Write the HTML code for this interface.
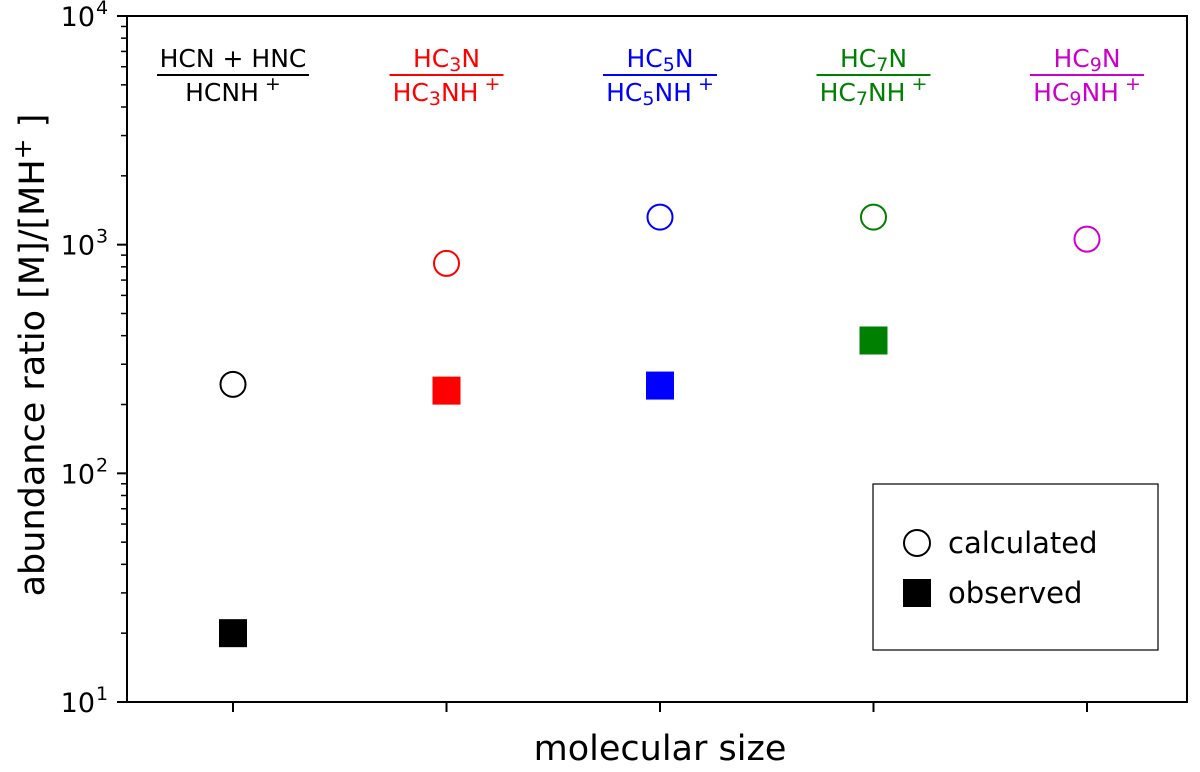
<!DOCTYPE html>
<html><head><meta charset="utf-8"><style>
body{margin:0;background:#fff}
svg{display:block;font-family:"DejaVu Sans","Liberation Sans",sans-serif}
</style></head><body>
<svg id="chart" width="1200" height="772" viewBox="0 0 1200 772" xmlns="http://www.w3.org/2000/svg">
<rect x="127" y="16" width="1060" height="686" fill="none" stroke="#000" stroke-width="2"/>
<g id="ticks"></g>
<g id="marks"></g>
<text x="44" y="355" font-size="35" text-anchor="middle" transform="rotate(-90 44 355)">abundance ratio [M]/[MH<tspan dy="-13" font-size="25">+</tspan><tspan dy="13"> ]</tspan></text>
<text x="660" y="760" font-size="35" text-anchor="middle">molecular size</text>
<g>
<rect x="873" y="484" width="285" height="166" fill="#fff" stroke="#000" stroke-width="1.2"/>
<circle cx="917" cy="543" r="13" fill="none" stroke="#000" stroke-width="2"/>
<text x="948" y="553" font-size="29">calculated</text>
<rect x="903" y="579" width="28" height="28" fill="#000"/>
<text x="948" y="603" font-size="29">observed</text>
</g>
</svg>
<script>
const categories=["HCN","HC3N","HC5N","HC7N","HC9N"];
const calculated=[245,828,1320,1320,1057];
const observed=[20,230,242,381,null];
const colors=["#000","#f00","#00f","#008000","#c0c"];
const yTickLabels=["1","2","3","4"];
const NS="http://www.w3.org/2000/svg";
const X0=127,X1=1187,Y0=702,Y1=16;
function yScale(v){return Y0-(Math.log10(v)-1)/3*(Y0-Y1);}
function xScale(i){return 233+i*213.5;}
function el(tag,attrs,parent){const e=document.createElementNS(NS,tag);for(const k in attrs)e.setAttribute(k,attrs[k]);parent.appendChild(e);return e;}
const tk=document.getElementById('ticks');
yTickLabels.forEach((p,i)=>{
  const v=Math.pow(10,+p);const y=yScale(v);
  const l=el('line',{x1:117,x2:127,y1:y,y2:y,stroke:'#000','stroke-width':2},tk);
  
  
  const t=el('text',{x:95,y:y+10,'font-size':27,'text-anchor':'end'},tk);
  
  
  t.innerHTML='10<tspan x="96" dy="-12" font-size="19" text-anchor="start">'+p+'</tspan>';
  if(i<3){for(let m=2;m<=9;m++){const ym=yScale(m*v);
    const ml=el('line',{x1:121,x2:127,y1:ym,y2:ym,stroke:'#000','stroke-width':1.5},tk);
    
    }}
});
const mk=document.getElementById('marks');
const sub=d=>'<tspan dy="4" font-size="19">'+d+'</tspan><tspan dy="-4">';
const labels=[
 ['HCN + HNC','HCNH'],
 ['HC'+sub(3)+'N</tspan>','HC'+sub(3)+'NH</tspan>'],
 ['HC'+sub(5)+'N</tspan>','HC'+sub(5)+'NH</tspan>'],
 ['HC'+sub(7)+'N</tspan>','HC'+sub(7)+'NH</tspan>'],
 ['HC'+sub(9)+'N</tspan>','HC'+sub(9)+'NH</tspan>']];
const halfW=[76,57,57,57,57];
categories.forEach((c,i)=>{
  const x=xScale(i);
  const t=el('line',{x1:x,x2:x,y1:702,y2:712,stroke:'#000','stroke-width':2},tk);
  
  
  const g=el('g',{fill:colors[i]},mk);
  
  
  const n=el('text',{x:x,y:67,'font-size':25,'text-anchor':'middle'},g);n.innerHTML=labels[i][0];
  el('line',{x1:x-halfW[i],x2:x+halfW[i],y1:75,y2:75,stroke:colors[i],'stroke-width':2},g);
  const d=el('text',{x:x,y:101,'font-size':25,'text-anchor':'middle'},g);d.innerHTML=labels[i][1]+'<tspan dy="-11" font-size="19"> +</tspan>';
  const ci=el('circle',{cx:x,cy:yScale(calculated[i]),r:12.5,fill:'none',stroke:colors[i],'stroke-width':2},mk);
  
  
  if(observed[i]!=null){
    const s=el('rect',{x:x-14,y:yScale(observed[i])-14,width:28,height:28,fill:colors[i]},mk);
    
    
  }
});
</script>
</body></html>
